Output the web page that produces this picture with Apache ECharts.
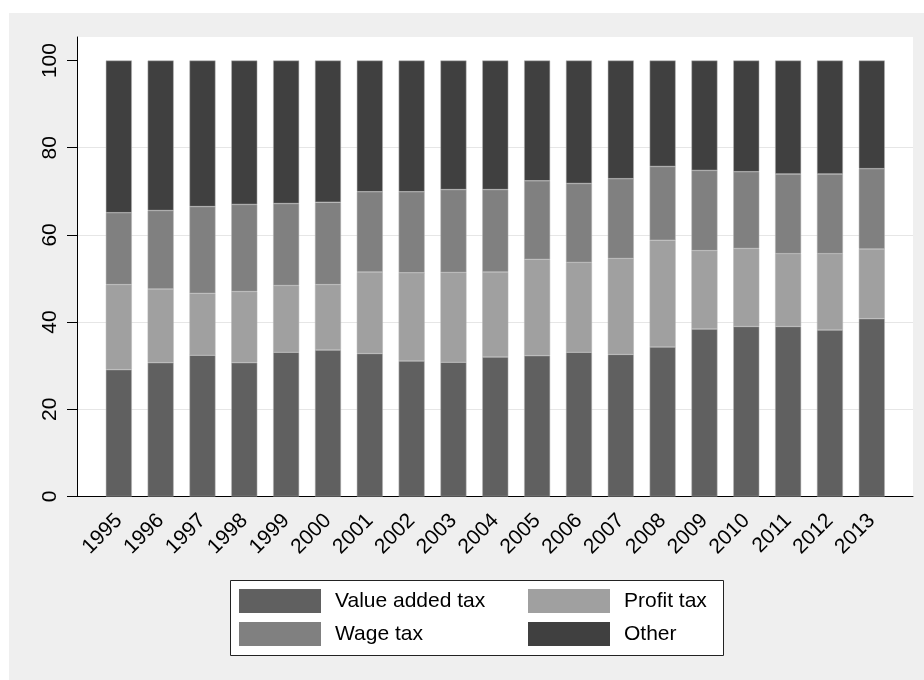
<!DOCTYPE html>
<html>
<head>
<meta charset="utf-8">
<title>Tax structure 1995-2013</title>
<script src="https://cdn.jsdelivr.net/npm/echarts@6/dist/echarts.min.js"></script>
<style>
  html, body { margin: 0; padding: 0; background: #fff; }
  #chart { width: 924px; height: 680px; }
</style>
</head>
<body>
<div id="chart"></div>
<script>
// data (shares in %, stacked to 100)
const years = ['1995', '1996', '1997', '1998', '1999', '2000', '2001', '2002', '2003', '2004',
  '2005', '2006', '2007', '2008', '2009', '2010', '2011', '2012', '2013']
const valueAddedTax = [29.1, 30.7, 32.4, 30.7, 33.1, 33.6, 32.8, 31.1, 30.8, 32.0, 32.3, 33.1, 32.6, 34.3, 38.4, 39.0, 39.0, 38.2, 40.8]
const profitTax = [19.5, 16.9, 14.2, 16.3, 15.3, 15.0, 18.7, 20.2, 20.6, 19.5, 22.1, 20.6, 22.0, 24.5, 18.0, 17.9, 16.7, 17.5, 16.0]
const wageTax = [16.5, 18.0, 19.9, 20.0, 18.8, 18.9, 18.4, 18.6, 19.0, 18.9, 18.0, 18.1, 18.3, 16.9, 18.4, 17.6, 18.3, 18.3, 18.4]
const other = [34.9, 34.4, 33.5, 33.0, 32.8, 32.5, 30.1, 30.1, 29.6, 29.6, 27.6, 28.2, 27.1, 24.3, 25.2, 25.5, 26.0, 26.0, 24.8]
const yTicks = [0, 20, 40, 60, 80, 100]

const font = 'Liberation Sans, Arial, Helvetica, sans-serif'
const yMax = 105.4

const seriesList = [
  {name: 'Value added tax', data: valueAddedTax, color: '#606060'},
  {name: 'Profit tax', data: profitTax, color: '#a0a0a0'},
  {name: 'Wage tax', data: wageTax, color: '#808080'},
  {name: 'Other', data: other, color: '#404040'}
]

const chart = echarts.init(document.getElementById('chart'), null, {renderer: 'canvas'})

// two vertical legends side by side = 2x2 key like stata
const legendBase = {
  orient: 'vertical',
  top: 589,
  padding: 0,
  itemWidth: 82,
  itemHeight: 24,
  itemGap: 9,
  icon: 'rect',
  selectedMode: false,
  itemStyle: {borderWidth: 0},
  textStyle: {fontSize: 21, fontFamily: font, color: '#000', lineHeight: 24, padding: [0, 0, 0, 9]}
}

const option = {
  animation: false,
  backgroundColor: '#fff',
  graphic: [
    // outer grey panel
    {type: 'rect', z: -10, shape: {x: 9, y: 13, width: 915, height: 667}, style: {fill: '#efefef'}},
    // legend frame
    {type: 'rect', z: 3, shape: {x: 230.5, y: 580.5, width: 493, height: 75}, style: {fill: '#fff', stroke: '#222', lineWidth: 1}}
  ],
  grid: [
    // plot area with axes
    {left: 77, top: 37, right: 11, bottom: 183.5, show: true, backgroundColor: '#fff', borderWidth: 0},
    // inner area that holds the bars (outer gap on both sides)
    {left: 97.9, top: 37, right: 31.3, bottom: 183.5}
  ],
  xAxis: [
    {
      gridIndex: 0, type: 'value', min: 0, max: 1,
      axisLine: {show: true, lineStyle: {color: '#000', width: 1}},
      axisTick: {show: false}, axisLabel: {show: false}, splitLine: {show: false}
    },
    {
      gridIndex: 1, type: 'category', data: years,
      axisLine: {show: false}, axisTick: {show: false},
      axisLabel: {rotate: 45, fontSize: 21, fontFamily: font, color: '#000', margin: 21, interval: 0}
    }
  ],
  yAxis: [
    {
      gridIndex: 0, type: 'value', min: 0, max: yMax, interval: 20,
      axisLine: {show: true, lineStyle: {color: '#000', width: 1}},
      axisTick: {show: true, length: 10, lineStyle: {color: '#000'}, customValues: yTicks},
      axisLabel: {rotate: 90, fontSize: 21, fontFamily: font, color: '#000', margin: 16, customValues: yTicks},
      splitLine: {show: true, showMaxLine: false, lineStyle: {color: '#e6e6e6', width: 1}}
    },
    {
      gridIndex: 1, type: 'value', min: 0, max: yMax, show: false,
      splitLine: {show: false}
    }
  ],
  legend: [
    Object.assign({}, legendBase, {left: 239, data: ['Value added tax', 'Wage tax']}),
    Object.assign({}, legendBase, {left: 528, data: ['Profit tax', 'Other']})
  ],
  series: seriesList.map((item) => ({
    name: item.name,
    type: 'bar',
    stack: 'total',
    xAxisIndex: 1,
    yAxisIndex: 1,
    barWidth: 26,
    data: item.data,
    itemStyle: {color: item.color, borderColor: '#b4b4b4', borderWidth: 0.5}
  }))
}

chart.setOption(option)
</script>
</body>
</html>
